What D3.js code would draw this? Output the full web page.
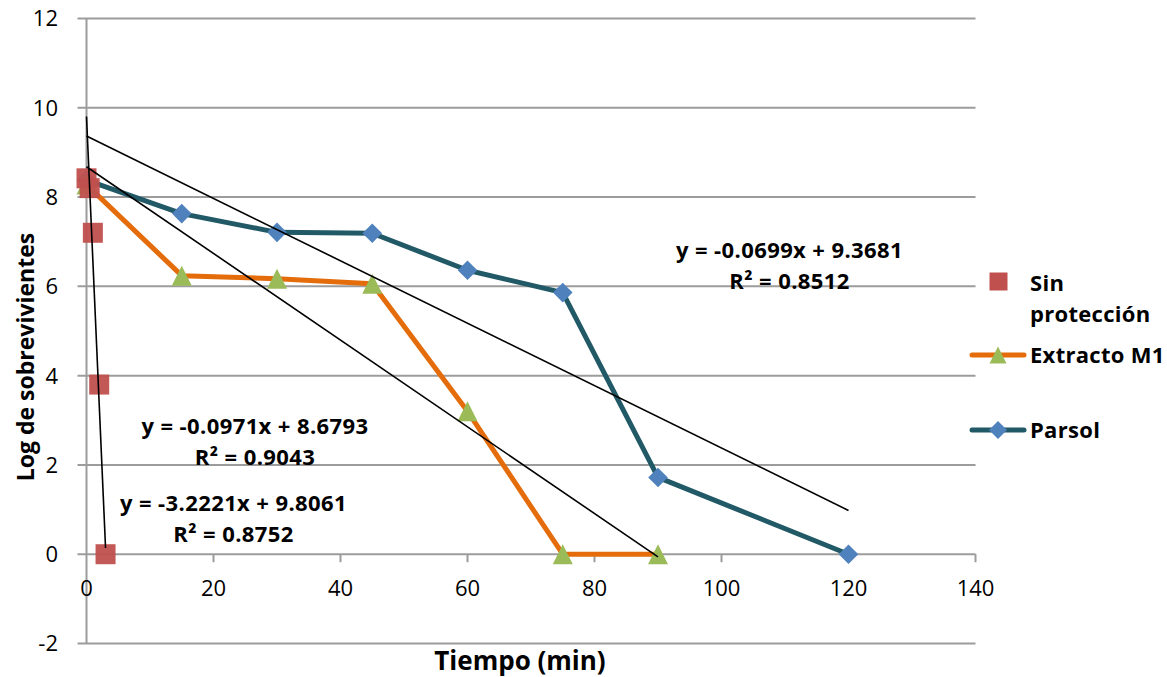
<!DOCTYPE html>
<html><head><meta charset="utf-8">
<script src="https://cdn.jsdelivr.net/npm/d3@7"></script>
<style>
html,body{margin:0;padding:0;background:#fff;}
svg{display:block;}
text{font-family:"Open Sans",sans-serif;fill:#000;}
</style></head>
<body><svg id="chart" width="1167" height="677"></svg>
<script>
// ---- data ----
const seriesNames = ["Sin protección", "Extracto M1", "Parsol"];
const sinX = [0, 0.5, 1, 2, 3];
const sinY = [8.42, 8.2, 7.2, 3.8, 0];
const extX = [0, 15, 30, 45, 60, 75, 90];
const extY = [8.28, 6.24, 6.17, 6.06, 3.2, 0, 0];
const parX = [0, 15, 30, 45, 60, 75, 90, 120];
const parY = [8.38, 7.63, 7.21, 7.19, 6.36, 5.86, 1.72, 0];
const trendSlope = [-3.2221, -0.0971, -0.0699];
const trendIntercept = [9.8061, 8.6793, 9.3681];
const trendR2 = [0.8752, 0.9043, 0.8512];
const xTicks = [0, 20, 40, 60, 80, 100, 120, 140];
const yTicks = [-2, 0, 2, 4, 6, 8, 10, 12];
const xTitle = "Tiempo (min)";
const yTitle = "Log de sobrevivientes";

// ---- layout ----
const svg = d3.select("#chart");
const x = d3.scaleLinear().domain([0, 140]).range([86.5, 975.5]);
const y = d3.scaleLinear().domain([-2, 12]).range([643.5, 18.5]);
const gridColor = "#9C9C9C";
const cRed = "#C0504D", cOrange = "#E46C0A", cGreen = "#9BBB59", cTeal = "#215967", cBlue = "#4F81BD";

// gridlines (with left tick extension)
svg.append("g").selectAll("line").data(yTicks).join("line")
  .attr("x1", x(0) - 9).attr("x2", x(140))
  .attr("y1", d => y(d)).attr("y2", d => y(d))
  .attr("stroke", gridColor).attr("stroke-width", 2);
// y axis line
svg.append("line").attr("x1", x(0)).attr("x2", x(0)).attr("y1", y(12)).attr("y2", y(-2))
  .attr("stroke", gridColor).attr("stroke-width", 2);
// x tick marks
svg.append("g").selectAll("line").data(xTicks.filter(d => d > 0)).join("line")
  .attr("x1", d => x(d)).attr("x2", d => x(d)).attr("y1", y(0)).attr("y2", y(0) + 8)
  .attr("stroke", gridColor).attr("stroke-width", 2);

// tick labels
svg.append("g").selectAll("text").data(yTicks).join("text")
  .attr("x", 58).attr("y", d => y(d)).attr("dy", "0.36em")
  .attr("text-anchor", "end").style("font-size", "22px")
  .text(d => d);
svg.append("g").selectAll("text").data(xTicks).join("text")
  .attr("x", d => x(d)).attr("y", 596)
  .attr("text-anchor", "middle").style("font-size", "22px")
  .text(d => d);

// axis titles
svg.append("text").attr("x", 520).attr("y", 670).attr("text-anchor", "middle")
  .style("font-size", "26px").style("font-weight", "bold").text(xTitle);
svg.append("text").attr("transform", "translate(34,357) rotate(-90)").attr("text-anchor", "middle")
  .style("font-size", "23px").style("font-weight", "bold").text(yTitle);

// lines
const lineGen = d3.line().x(d => x(d[0])).y(d => y(d[1]));
const extPts = extX.map((v, i) => [v, extY[i]]);
const parPts = parX.map((v, i) => [v, parY[i]]);
const sinPts = sinX.map((v, i) => [v, sinY[i]]);
svg.append("path").attr("d", lineGen(extPts)).attr("fill", "none")
  .attr("stroke", cOrange).attr("stroke-width", 5).attr("stroke-linejoin", "round").attr("stroke-linecap", "round");
svg.append("path").attr("d", lineGen(parPts)).attr("fill", "none")
  .attr("stroke", cTeal).attr("stroke-width", 5).attr("stroke-linejoin", "round").attr("stroke-linecap", "round");

// markers
const diamond = (cx, cy, r) => `M${cx},${cy - r}L${cx + r},${cy}L${cx},${cy + r}L${cx - r},${cy}Z`;
const triangle = (cx, cy, s) => `M${cx},${cy - s / 2}L${cx + s / 2},${cy + s / 2}L${cx - s / 2},${cy + s / 2}Z`;
svg.append("g").selectAll("path").data(parPts).join("path")
  .attr("d", d => diamond(x(d[0]), y(d[1]), 9.8)).attr("fill", cBlue);
svg.append("g").selectAll("path").data(extPts).join("path")
  .attr("d", d => triangle(x(d[0]), y(d[1]), 20)).attr("fill", cGreen);
svg.append("g").selectAll("rect").data(sinPts).join("rect")
  .attr("x", d => x(d[0]) - 10).attr("y", d => y(d[1]) - 10)
  .attr("width", 20).attr("height", 20).attr("fill", cRed).attr("opacity", 0.95);

// trendlines
const xsets = [sinX, extX, parX];
trendSlope.forEach((m, i) => {
  const [a, b] = d3.extent(xsets[i]);
  svg.append("line").attr("x1", x(a)).attr("y1", y(trendIntercept[i] + m * a))
    .attr("x2", x(b)).attr("y2", y(trendIntercept[i] + m * b))
    .attr("stroke", "#000").attr("stroke-width", 1.6);
});

// trend equations
const eqPos = [[233.5, 511], [255, 434], [789.5, 258]];
trendSlope.forEach((m, i) => {
  const g = svg.append("g").style("font-size", "22px").style("font-weight", "bold").style("letter-spacing", "0.4px");
  g.append("text").attr("x", eqPos[i][0]).attr("y", eqPos[i][1]).attr("text-anchor", "middle")
    .text(`y = ${m.toFixed(4)}x + ${trendIntercept[i].toFixed(4)}`);
  g.append("text").attr("x", eqPos[i][0]).attr("y", eqPos[i][1] + 31).attr("text-anchor", "middle")
    .text(`R² = ${trendR2[i].toFixed(4)}`);
});

// legend
const lg = svg.append("g").style("font-size", "22px").style("font-weight", "bold").style("letter-spacing", "0.3px");
lg.append("rect").attr("x", 989.5).attr("y", 272.5).attr("width", 18).attr("height", 18).attr("fill", cRed);
lg.append("text").attr("x", 1030).attr("y", 291).text("Sin");
lg.append("text").attr("x", 1030).attr("y", 322).text("protección");
lg.append("line").attr("x1", 972).attr("x2", 1024).attr("y1", 355).attr("y2", 355)
  .attr("stroke", cOrange).attr("stroke-width", 5).attr("stroke-linecap", "round");
lg.append("path").attr("d", triangle(998, 355, 17)).attr("fill", cGreen);
lg.append("text").attr("x", 1030).attr("y", 363).text(seriesNames[1]);
lg.append("line").attr("x1", 972).attr("x2", 1024).attr("y1", 430).attr("y2", 430)
  .attr("stroke", cTeal).attr("stroke-width", 5).attr("stroke-linecap", "round");
lg.append("path").attr("d", diamond(998, 430, 9)).attr("fill", cBlue);
lg.append("text").attr("x", 1030).attr("y", 438).text(seriesNames[2]);
</script></body></html>
